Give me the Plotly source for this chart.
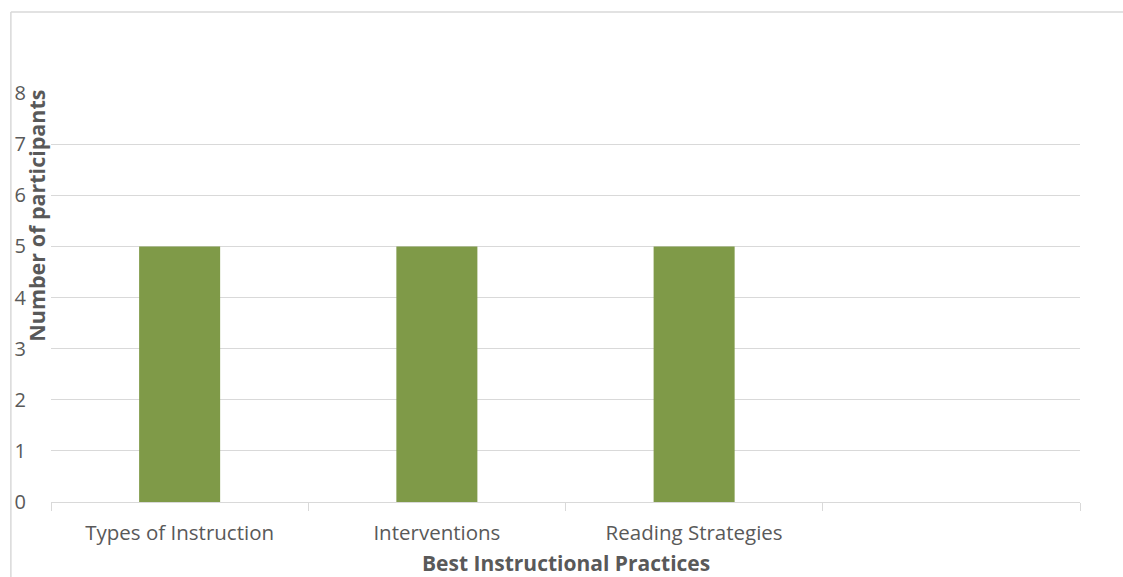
import plotly.graph_objects as go

categories = ["Types of Instruction", "Interventions", "Reading Strategies", " "]
participants = [5, 5, 5, None]
y_ticks = [0, 1, 2, 3, 4, 5, 6, 7, 8]

GRID = "#d9d9d9"
TXT = "#595959"
FONT = "Open Sans"

fig = go.Figure()
fig.add_trace(go.Bar(
    x=categories, y=participants,
    marker=dict(color="#7f9a48", line=dict(width=0)),
    width=0.315,
))

fig.update_layout(
    width=1123, height=577,
    margin=dict(l=51, r=43, t=93, b=75),
    paper_bgcolor="white", plot_bgcolor="white",
    showlegend=False,
    font=dict(family=FONT, color=TXT, size=21),
    xaxis=dict(
        type="category", categoryorder="array", categoryarray=categories,
        tickson="boundaries", ticks="outside", ticklen=8, tickcolor=GRID, tickwidth=1,
        showline=True, linecolor=GRID, linewidth=1,
        showgrid=False, zeroline=False,
        tickfont=dict(family=FONT, size=20.5, color=TXT),
        ticklabelstandoff=12,
        range=[-0.5, 3.5],
    ),
    yaxis=dict(
        range=[0, 8], tickvals=y_ticks, showgrid=True, gridcolor=GRID, gridwidth=1,
        zeroline=False, showline=False, ticks="",
        tickfont=dict(family=FONT, size=20, color=TXT),
        ticklabelstandoff=24,
    ),
    annotations=[
        dict(text="<b>Best Instructional Practices</b>", xref="paper", yref="paper",
             x=0.5, y=-0.149, xanchor="center", yanchor="middle", showarrow=False,
             font=dict(family=FONT, size=21, color=TXT)),
        dict(text="<b>Number of participants</b>", xref="paper", yref="paper",
             x=-0.0136, y=0.70, xanchor="center", yanchor="middle", showarrow=False,
             textangle=-90, font=dict(family=FONT, size=21.5, color=TXT)),
    ],
    shapes=[
        dict(type="line", xref="paper", yref="paper", x0=-0.039, x1=-0.039, y0=-0.3, y1=1.198,
             line=dict(color=GRID, width=1.5)),
        dict(type="line", xref="paper", yref="paper", x0=-0.039, x1=1.1, y0=1.198, y1=1.198,
             line=dict(color=GRID, width=1.5)),
    ],
)

fig.write_html("out.html")
